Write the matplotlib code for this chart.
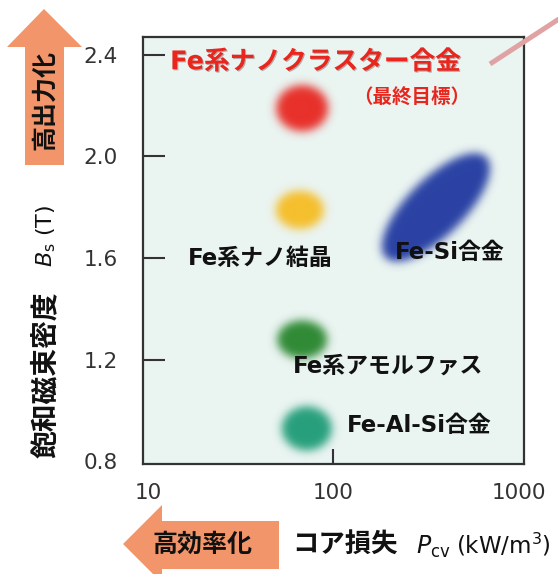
import numpy as np
import matplotlib
matplotlib.use("Agg")
import matplotlib.pyplot as plt
import matplotlib.transforms as mtransforms
import matplotlib.patheffects as pe
from matplotlib.patches import Ellipse, Polygon
from matplotlib.lines import Line2D
from matplotlib.ticker import FixedLocator, FixedFormatter, NullLocator

plt.rcParams['font.family'] = ['DejaVu Sans', 'Noto Sans CJK JP']

# ---- data: soft-magnetic materials, core loss vs. saturation flux density ----
materials = ['Fe系ナノクラスター合金', 'Fe系ナノ結晶', 'Fe-Si合金', 'Fe系アモルファス', 'Fe-Al-Si合金']
core_loss = [68, 66, 358, 68, 72]              # P_cv (kW/m^3)
flux_density = [2.19, 1.79, 1.80, 1.28, 0.93]  # B_s (T)

x_ticks = [10, 100, 1000]
x_tick_labels = ['10', '100', '1000']
y_ticks = [0.8, 1.2, 1.6, 2.0, 2.4]
y_tick_labels = ['0.8', '1.2', '1.6', '2.0', '2.4']

# ---- styles (same order as materials) ----
blob_colors = ['#e8302a', '#f6bf2c', '#2a42a4', '#2f8a35', '#27a07c']
blob_size_in = [(0.52, 0.46), (0.48, 0.38), (1.42, 0.57), (0.50, 0.38), (0.50, 0.44)]
blob_angle = [0, 0, 45, 0, 0]
blur_pt = 3.2

W, H = 558, 574
fig = plt.figure(figsize=(W / 100, H / 100), dpi=100)


def fx(px):
    return px / W


def fy(py):
    return 1 - py / H


ax = fig.add_axes([fx(143), fy(464), (524 - 143) / W, (464 - 37) / H])
ax.set_facecolor('#eaf4f1')
ax.set_xscale('log')
ax.set_xlim(9.4, 1070)
ax.set_ylim(0.79, 2.47)

ax.xaxis.set_major_locator(FixedLocator(x_ticks))
ax.xaxis.set_major_formatter(FixedFormatter(x_tick_labels))
ax.xaxis.set_minor_locator(NullLocator())
ax.yaxis.set_major_locator(FixedLocator(y_ticks))
ax.yaxis.set_major_formatter(FixedFormatter(y_tick_labels))
ax.yaxis.set_minor_locator(NullLocator())

for s in ax.spines.values():
    s.set_color('#333333')
    s.set_linewidth(1.6)
ax.tick_params(axis='y', direction='in', length=16, width=1.5, color='#333333',
               labelsize=15.5, labelcolor='#333333', pad=18)
ax.tick_params(axis='x', direction='in', length=11, width=1.5, color='#333333',
               labelsize=15.5, labelcolor='#333333', pad=14)
# only the middle decade carries a visible tick mark
for i, t in enumerate(ax.xaxis.get_major_ticks()):
    if i != 1:
        t.tick1line.set_visible(False)
ax.yaxis.get_major_ticks()[0].tick1line.set_visible(False)


# ---- soft-edged blobs ----
class SoftEdge:
    """Gaussian blur applied to an artist's rendered pixels."""

    def __init__(self, sigma_pt):
        self.sigma_pt = sigma_pt

    def __call__(self, im, dpi):
        s = self.sigma_pt * dpi / 72.0
        r = int(3 * s) + 1
        k = np.exp(-0.5 * (np.arange(-r, r + 1) / s) ** 2)
        k /= k.sum()
        a = np.pad(im, ((r, r), (r, r), (0, 0)))
        pm = a.copy()
        pm[..., :3] *= pm[..., 3:4]
        tmp = np.zeros_like(pm)
        n0 = pm.shape[0]
        for i, w in enumerate(k):
            sh = i - r
            if sh > 0:
                tmp[sh:] += w * pm[:n0 - sh]
            elif sh == 0:
                tmp += w * pm
            else:
                tmp[:sh] += w * pm[-sh:]
        out = np.zeros_like(tmp)
        n1 = tmp.shape[1]
        for i, w in enumerate(k):
            sh = i - r
            if sh > 0:
                out[:, sh:] += w * tmp[:, :n1 - sh]
            elif sh == 0:
                out += w * tmp
            else:
                out[:, :sh] += w * tmp[:, -sh:]
        alpha = out[..., 3:4]
        rgb = np.where(alpha > 1e-6, out[..., :3] / np.maximum(alpha, 1e-6), 0)
        res = np.concatenate([np.clip(rgb, 0, 1), np.clip(alpha, 0, 1)], axis=2)
        return res, -r, -r


for x, y, c, (w, h), ang in zip(core_loss, flux_density, blob_colors, blob_size_in, blob_angle):
    tr = fig.dpi_scale_trans + mtransforms.ScaledTranslation(x, y, ax.transData)
    e = Ellipse((0, 0), w, h, angle=ang, facecolor=c, edgecolor='none', transform=tr)
    e.set_agg_filter(SoftEdge(blur_pt))
    ax.add_artist(e)

# ---- material labels ----
lab_kw = dict(transform=ax.transAxes, fontsize=16.5, fontweight='bold', color='#111111',
              ha='center', va='center')
ax.text(0.071, 0.941, materials[0], transform=ax.transAxes, fontsize=18.5, fontweight='bold',
        color='#e8261e', ha='left', va='center',
        path_effects=[pe.withSimplePatchShadow(offset=(0.8, -0.8), shadow_rgbFace='#552222', alpha=0.35)])
ax.text(0.706, 0.859, '（最終目標）', transform=ax.transAxes, fontsize=14, fontweight='bold',
        color='#e8261e', ha='center', va='center')
ax.text(0.307, 0.482, materials[1], **lab_kw)
ax.text(0.806, 0.496, materials[2], **lab_kw)
ax.text(0.643, 0.2295, materials[3], **lab_kw)
ax.text(0.724, 0.0913, materials[4], **lab_kw)

# ---- axis titles ----
fig.text(fx(46), fy(375), '飽和磁束密度', rotation=90, fontsize=20, fontweight='bold',
         color='#111111', ha='center', va='center')
fig.text(fx(46), fy(236), r'$B_{\mathrm{s}}$ (T)', rotation=90, fontsize=16,
         color='#111111', ha='center', va='center')
fig.text(fx(345), fy(545), 'コア損失', fontsize=19, fontweight='bold', color='#111111',
         ha='center', va='center')
fig.text(fx(416), fy(547), r'$P_{\mathrm{cv}}$', fontsize=17, color='#111111',
         ha='left', va='center')
fig.text(fx(456), fy(545), r'(kW/m$^3$)', fontsize=16.5, color='#111111',
         ha='left', va='center')

# ---- direction arrows ----
arrow_color = '#f2956a'
up_pts = [(44, 9), (82, 47), (64, 47), (64, 165), (25, 165), (25, 47), (7, 47)]
fig.add_artist(Polygon([(fx(a), fy(b)) for a, b in up_pts], closed=True,
                       facecolor=arrow_color, edgecolor='none', transform=fig.transFigure))
fig.text(fx(45), fy(100), '高出力化', rotation=90, fontsize=18, fontweight='bold',
         color='#111111', ha='center', va='center')

left_pts = [(123, 544), (162, 505), (162, 521), (279, 521), (279, 569), (162, 569), (162, 583)]
fig.add_artist(Polygon([(fx(a), fy(b)) for a, b in left_pts], closed=True,
                       facecolor=arrow_color, edgecolor='none', transform=fig.transFigure))
fig.text(fx(203), fy(545), '高効率化', fontsize=18, fontweight='bold',
         color='#111111', ha='center', va='center')

# ---- pointer line towards the top-right ----
fig.add_artist(Line2D([fx(490), fx(562)], [fy(64), fy(17)], color='#e0a2a2', lw=3.6,
                      solid_capstyle='butt', transform=fig.transFigure, zorder=5))

fig.savefig('out.png', dpi=100)
